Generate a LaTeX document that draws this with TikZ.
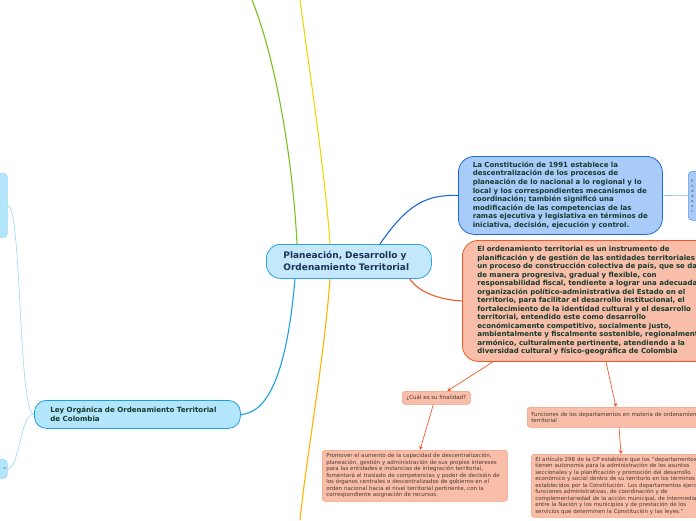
\documentclass[tikz,border=0pt]{standalone}
\usepackage{fontspec}
\setmainfont{DejaVu Sans}
\usetikzlibrary{arrows.meta}
\definecolor{inkgreen}{RGB}{22,58,44}
\definecolor{inknavy}{RGB}{28,51,85}
\definecolor{inkbrown}{RGB}{74,58,48}
\definecolor{skyfill}{RGB}{196,232,251}
\definecolor{skyline}{RGB}{46,163,227}
\definecolor{leyfill}{RGB}{179,229,252}
\definecolor{leyline}{RGB}{27,161,226}
\definecolor{constfill}{RGB}{169,203,249}
\definecolor{constline}{RGB}{30,106,212}
\definecolor{salmon}{RGB}{248,190,169}
\definecolor{redorange}{RGB}{240,90,40}
\definecolor{softorange}{RGB}{245,155,122}
\definecolor{limegreen}{RGB}{122,193,30}
\definecolor{sunyellow}{RGB}{238,214,10}
\definecolor{amber}{RGB}{255,179,0}
\definecolor{paleblue}{RGB}{130,190,240}
\definecolor{palesky}{RGB}{150,215,245}
\tikzset{
  box/.style={anchor=north west,line width=0.8pt,align=left,inner ysep=0pt,text=inkgreen},
  central/.style={box,draw=skyline,fill=skyfill,rounded corners=14pt,text=inknavy,
    font=\fontsize{9}{12}\selectfont\bfseries},
  constbox/.style={box,draw=constline,fill=constfill,rounded corners=16pt,
    font=\fontsize{7.0}{8.6}\selectfont\bfseries},
  ordbox/.style={box,draw=redorange,fill=salmon,rounded corners=16pt,
    font=\fontsize{7.0}{8.5}\selectfont\bfseries},
  leybox/.style={box,draw=leyline,fill=leyfill,rounded corners=12pt,
    font=\fontsize{7.1}{9}\selectfont\bfseries},
  note/.style={box,draw=softorange,fill=salmon,rounded corners=3pt,line width=0.6pt,
    text=inkbrown,font=\fontsize{5.5}{6.5}\selectfont},
  stub/.style={box,draw=palesky,fill=leyfill,rounded corners=4pt,line width=0.6pt,
    text=inkbrown,font=\fontsize{3.5}{5}\selectfont},
  branch/.style={line width=1.1pt},
  twig/.style={line width=0.6pt},
  arr/.style={-{Stealth[length=4pt,width=4pt]},draw=redorange,line width=0.7pt}
}
\begin{document}
\begin{tikzpicture}[x=1pt,y=-1pt]
  \useasboundingbox (0,0) rectangle (696,520);
  \clip (0,0) rectangle (696,520);

  % free ends of the branches leaving the picture
  \coordinate (gtop) at (252,0);
  \coordinate (ytop) at (300,0);
  \coordinate (obot) at (300,520);

  % main topic
  \node[central,minimum width=165pt,minimum height=34pt,text width=131pt,inner xsep=17pt] (main) at (266,244)
    {Planeación, Desarrollo y\\Ordenamiento Territorial};

  % right side
  \node[constbox,minimum width=204pt,minimum height=78pt,inner xsep=0pt] (const) at (458,156)
    {La Constitución de 1991 establece la\\
     descentralización de los procesos de\\
     planeación de lo nacional a lo regional y lo\\
     local y los correspondientes mecanismos de\\
     coordinación; también significó una\\
     modificación de las competencias de las\\
     ramas ejecutiva y legislativa en términos de\\
     iniciativa, decisión, ejecución y control.};
  \node[stub,draw=constline!70,fill=constfill,minimum width=30pt,minimum height=49pt,text width=24pt,inner xsep=3pt] (constsub) at (688,171)
    {E\\ti\\d\\d\\e\\e\\c};

  \node[ordbox,minimum width=250pt,minimum height=121pt,text width=232pt,inner xsep=15pt] (ordn) at (462,240)
    {El ordenamiento territorial es un instrumento de\\
     planificación y de gestión de las entidades territoriales y\\
     un proceso de construcción colectiva de país, que se da\\
     de manera progresiva, gradual y flexible, con\\
     responsabilidad fiscal, tendiente a lograr una adecuada\\
     organización político-administrativa del Estado en el\\
     territorio, para facilitar el desarrollo institucional, el\\
     fortalecimiento de la identidad cultural y el desarrollo\\
     territorial, entendido este como desarrollo\\
     económicamente competitivo, socialmente justo,\\
     ambientalmente y fiscalmente sostenible, regionalmente\\
     armónico, culturalmente pertinente, atendiendo a la\\
     diversidad cultural y físico-geográfica de Colombia};

  \node[note,minimum width=68pt,minimum height=13pt,align=center,inner xsep=2pt] (cual) at (402,391)
    {¿Cuál es su finalidad?};
  \node[note,minimum width=183pt,minimum height=51pt,text width=177pt,inner xsep=4pt] (prom) at (322,450)
    {Promover el aumento de la capacidad de descentralización,\\
     planeación, gestión y administración de sus propios intereses\\
     para las entidades e instancias de integración territorial,\\
     fomentará el traslado de competencias y poder de decisión de\\
     los órganos centrales o descentralizados de gobierno en el\\
     orden nacional hacia el nivel territorial pertinente, con la\\
     correspondiente asignación de recursos.};

  \node[note,minimum width=190pt,minimum height=20pt,text width=182pt,inner xsep=4pt] (func) at (527,407)
    {Funciones de los departamentos en materia de ordenamiento\\
     territorial};
  \node[note,minimum width=185pt,minimum height=63pt,text width=177pt,inner xsep=4pt] (art) at (531,454)
    {El artículo 298 de la CP establece que los "departamentos\\
     tienen autonomía para la administración de los asuntos\\
     seccionales y la planificación y promoción del desarrollo\\
     económico y social dentro de su territorio en los términos\\
     establecidos por la Constitución. Los departamentos ejercen\\
     funciones administrativas, de coordinación y de\\
     complementariedad de la acción municipal, de intermediación\\
     entre la Nación y los municipios y de prestación de los\\
     servicios que determinen la Constitución y las leyes."};

  % left side
  \node[leybox,minimum width=206pt,minimum height=28pt,text width=174pt,inner xsep=16pt] (ley) at (34,400)
    {Ley Orgánica de Ordenamiento Territorial\\de Colombia};
  \node[stub,minimum width=27pt,minimum height=64pt] (leytop) at (-20,173) {};
  \node[stub,minimum width=27pt,minimum height=19pt,align=right,text width=24pt,inner xsep=1pt] (leybot) at (-20,459) {o};

  % branches
  \draw[branch,limegreen] (gtop) .. controls (280,70) and (294,180) .. ([xshift=31pt]main.north west);
  \draw[branch,sunyellow] (ytop) .. controls (308,60) and (326,180) .. ([xshift=64pt]main.north west);
  \draw[branch,amber] ([xshift=64pt]main.south west) .. controls (324,360) and (306,460) .. (obot);
  \draw[branch,leyline] ([xshift=29pt]main.south west) .. controls (288,360) and (272,413) .. (ley.east);
  \draw[branch,constline] ([xshift=114pt]main.north west) .. controls (410,200) and (430,195) .. (const.west);
  \draw[branch,redorange] ([xshift=-22pt]main.south east) .. controls (418,292) and (440,300) .. (ordn.west);
  \draw[twig,paleblue] (const.east) -- (constsub.west);
  \draw[twig,palesky] (ley.west) .. controls (18,413) and (22,205) .. (leytop.east);
  \draw[twig,palesky] (ley.west) .. controls (20,413) and (20,468) .. (leybot.east);

  % arrows
  \draw[arr] ([xshift=31pt]ordn.south west) -- ([xshift=11pt]cual.north);
  \draw[arr] ([xshift=-3pt]cual.south) -- ([xshift=98pt]prom.north west);
  \draw[arr] ([xshift=144pt]ordn.south west) -- ([xshift=89pt]func.north west);
  \draw[arr] ([xshift=92pt]func.south west) -- ([xshift=90pt]art.north west);
\end{tikzpicture}
\end{document}
